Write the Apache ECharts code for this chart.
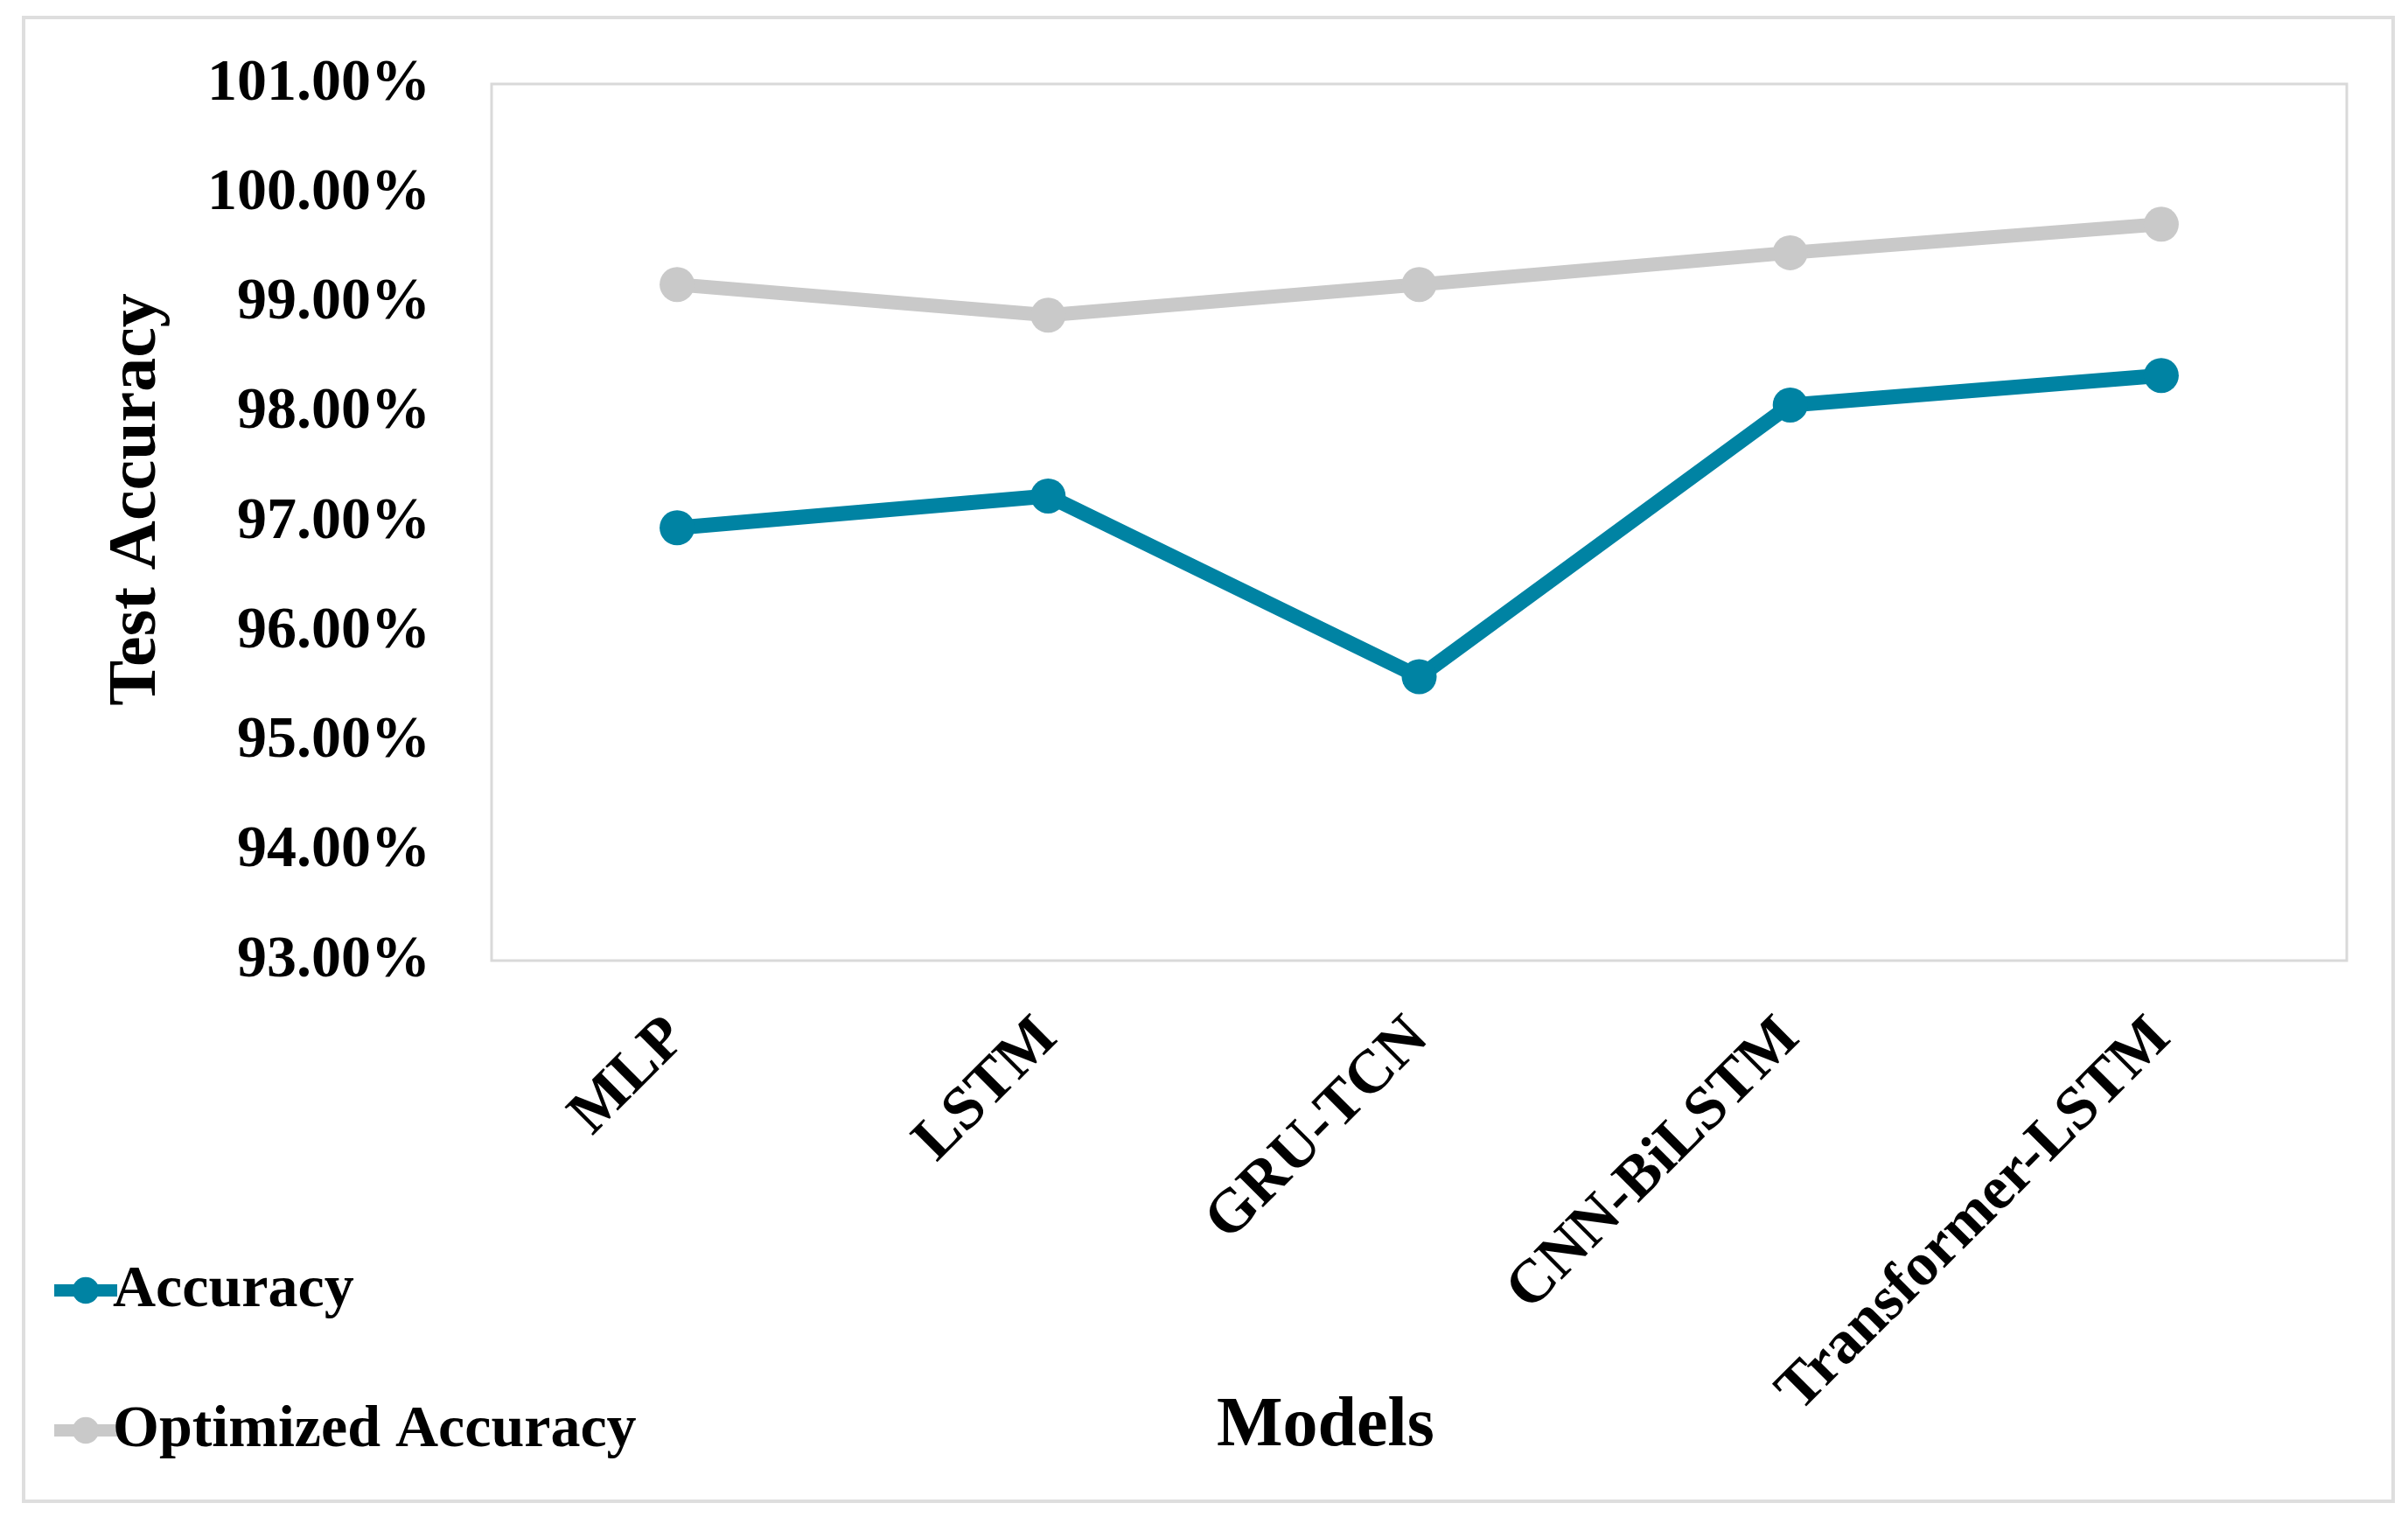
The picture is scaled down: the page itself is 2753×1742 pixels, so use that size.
<!DOCTYPE html>
<html>
<head>
<meta charset="utf-8">
<script src="https://cdn.jsdelivr.net/npm/echarts@6/dist/echarts.min.js"></script>
<style>
html,body{margin:0;padding:0;background:#fff;}
#chart{width:2753px;height:1742px;}
</style>
</head>
<body>
<div id="chart"></div>
<script>
const categories = ['MLP', 'LSTM', 'GRU-TCN', 'CNN-BiLSTM', 'Transformer-LSTM'];
const accuracy = [96.95, 97.24, 95.59, 98.07, 98.34];
const optimizedAccuracy = [99.17, 98.89, 99.17, 99.46, 99.72];
const yMin = 93, yMax = 101, yStep = 1;

const FONT = '"Liberation Serif", "DejaVu Serif", serif';
const chart = echarts.init(document.getElementById('chart'), null, {renderer: 'canvas'});

const legendCommon = {
  orient: 'vertical', left: 50,
  itemWidth: 72, itemHeight: 38, itemGap: 10,
  lineStyle: {width: 14},
  textStyle: {fontFamily: FONT, fontWeight: 'bold', fontSize: 68, color: '#000', padding: [0,0,0,-10]}
};

const option = {
  backgroundColor: '#ffffff',
  animation: false,
  graphic: [{
    type: 'rect',
    shape: {x: 27, y: 20, width: 2709, height: 1696},
    style: {fill: 'none', stroke: '#dedede', lineWidth: 4},
    z: -1
  }],
  grid: {
    left: 562, right: 70, top: 96, bottom: 644,
    show: true, borderColor: '#d9d9d9', borderWidth: 3, backgroundColor: '#fff'
  },
  legend: [
    Object.assign({}, legendCommon, {top: 1436, data: ['Accuracy']}),
    Object.assign({}, legendCommon, {top: 1596, data: ['Optimized Accuracy']})
  ],
  xAxis: {
    type: 'category',
    data: categories,
    boundaryGap: true,
    name: 'Models',
    nameLocation: 'middle',
    nameGap: 493,
    nameMoveOverlap: false,
    nameTextStyle: {fontFamily: FONT, fontWeight: 'bold', fontSize: 80, color: '#000', padding: [0, 214, 0, 0]},
    axisLine: {show: false},
    axisTick: {show: false},
    axisLabel: {
      rotate: 45, margin: 78,
      fontFamily: FONT, fontWeight: 'bold', fontSize: 70, color: '#000'
    }
  },
  yAxis: {
    type: 'value',
    min: yMin, max: yMax, interval: yStep,
    name: 'Test Accuracy',
    nameLocation: 'middle',
    nameGap: 366,
    nameRotate: 90,
    nameTextStyle: {fontFamily: FONT, fontWeight: 'bold', fontSize: 78, color: '#000', padding: [0, 0, 0, 52]},
    axisLine: {show: false},
    axisTick: {show: false},
    splitLine: {show: false},
    axisLabel: {
      margin: 70,
      formatter: v => v.toFixed(2) + '%',
      fontFamily: FONT, fontWeight: 'bold', fontSize: 68, color: '#000'
    }
  },
  series: [{
    name: 'Accuracy',
    type: 'line',
    data: accuracy,
    symbol: 'circle',
    symbolSize: 40,
    color: '#0083a3',
    lineStyle: {width: 17, color: '#0083a3'},
    itemStyle: {color: '#0083a3'},
    z: 3
  }, {
    name: 'Optimized Accuracy',
    type: 'line',
    data: optimizedAccuracy,
    symbol: 'circle',
    symbolSize: 40,
    color: '#c9c9c9',
    lineStyle: {width: 16, color: '#c9c9c9'},
    itemStyle: {color: '#c9c9c9'},
    z: 2
  }]
};
chart.setOption(option);
</script>
</body>
</html>
